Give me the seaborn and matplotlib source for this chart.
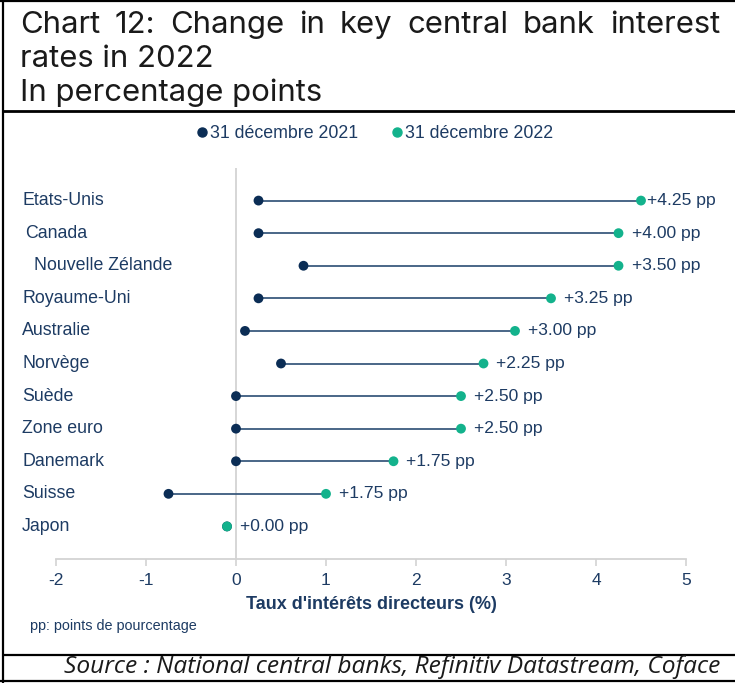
import numpy as np
import pandas as pd
import matplotlib
matplotlib.use("Agg")
import matplotlib.pyplot as plt
import matplotlib.transforms as mtransforms
from matplotlib.lines import Line2D
import seaborn as sns

# ---------------- data ----------------
countries = ["Etats-Unis", "Canada", "Nouvelle Zélande", "Royaume-Uni", "Australie",
             "Norvège", "Suède", "Zone euro", "Danemark", "Suisse", "Japon"]
rate_2021 = [0.25, 0.25, 0.75, 0.25, 0.10, 0.50, 0.00, 0.00, 0.00, -0.75, -0.10]
rate_2022 = [4.50, 4.25, 4.25, 3.50, 3.10, 2.75, 2.50, 2.50, 1.75, 1.00, -0.10]
change_labels = ["+4.25 pp", "+4.00 pp", "+3.50 pp", "+3.25 pp", "+3.00 pp", "+2.25 pp",
                 "+2.50 pp", "+2.50 pp", "+1.75 pp", "+1.75 pp", "+0.00 pp"]
series_names = ["31 décembre 2021", "31 décembre 2022"]
x_ticks = [-2, -1, 0, 1, 2, 3, 4, 5]

# ---------------- style ----------------
W, H, DPI = 735, 683, 100
NAVY = "#0b2d55"
TEAL = "#13b28c"
LINE = "#3a5a7e"
TXT = "#1d3b63"
GRID = "#d3d3d3"
label_indent_px = [22, 25, 34, 22, 22, 22, 22, 22, 22, 22, 22]
value_offset_px = [6, 13, 13, 13, 13, 13, 13, 13, 13, 13, 13]

sns.set_theme(style="white")
plt.rcParams["font.family"] = ["Liberation Sans", "DejaVu Sans"]

fig = plt.figure(figsize=(W / DPI, H / DPI), dpi=DPI)
ax = fig.add_axes([56 / W, 1 - 559 / H, 630 / W, (559 - 168) / H])

pos = np.arange(len(countries))
df = pd.DataFrame({
    "pays": countries * 2,
    "pos": np.concatenate([pos, pos]),
    "taux": rate_2021 + rate_2022,
    "date": [series_names[0]] * len(countries) + [series_names[1]] * len(countries),
})

ax.axvline(0, color=GRID, lw=1.3, zorder=0)
ax.hlines(pos, rate_2021, rate_2022, color=LINE, lw=1.3, zorder=1)
sns.scatterplot(data=df, x="taux", y="pos", hue="date", palette=[NAVY, TEAL],
                s=50, edgecolor="none", linewidth=0, legend=False, ax=ax, zorder=3)

ax.set_xlim(-2, 5)
ax.set_ylim(len(countries), -1)
ax.set_xticks(x_ticks)
ax.set_xticklabels([str(t) for t in x_ticks], fontsize=12.5, color=TXT)
ax.set_yticks([])
ax.set_ylabel("")
for s in ["top", "right", "left"]:
    ax.spines[s].set_visible(False)
ax.spines["bottom"].set_color(GRID)
ax.spines["bottom"].set_linewidth(1.3)
ax.tick_params(axis="x", bottom=True, length=5, width=1.2, color=GRID, pad=5)
ax.set_xlabel("Taux d'intérêts directeurs (%)", fontsize=13, fontweight="bold",
              color=TXT, labelpad=6)

# country labels
blend = mtransforms.blended_transform_factory(fig.transFigure, ax.transData)
for i, c in enumerate(countries):
    ax.text(label_indent_px[i] / W, pos[i], c, transform=blend, ha="left", va="center",
            fontsize=12.8, color=TXT)

# value labels
for i, lab in enumerate(change_labels):
    tr = mtransforms.offset_copy(ax.transData, fig=fig, x=value_offset_px[i], y=0, units="dots")
    ax.text(rate_2022[i], pos[i], lab, transform=tr, ha="left", va="center",
            fontsize=12.6, color=TXT)

# legend
handles = [Line2D([], [], marker="o", ls="none", color=NAVY, markersize=6.5),
           Line2D([], [], marker="o", ls="none", color=TEAL, markersize=6.5)]
fig.legend(handles, series_names, loc="center", bbox_to_anchor=(374 / W, 1 - 134 / H),
           ncol=2, frameon=False, fontsize=12.8, handletextpad=0.05, columnspacing=1.8,
           handlelength=0.8, labelcolor=TXT)

# note
fig.text(30 / W, 1 - 626 / H, "pp: points de pourcentage", fontsize=10.4, color=TXT,
         ha="left", va="center")

# ---------------- title ----------------
renderer = fig.canvas.get_renderer()
TFONT = ["Inter", "DejaVu Sans"]
SFONT = ["Open Sans", "DejaVu Sans"]

def width_px(txt, size, family, style="normal"):
    t = fig.text(0, 0, txt, fontsize=size, family=family, style=style)
    w = t.get_window_extent(renderer=renderer).width
    t.remove()
    return w

tsize = 20 * 302 / width_px("In percentage points", 20, TFONT)
words = ["Chart", "12:", "Change", "in", "key", "central", "bank", "interest"]
ws = [width_px(w, tsize, TFONT) for w in words]
gap = (700 - sum(ws)) / (len(words) - 1)
x = 20
for w, wd in zip(words, ws):
    fig.text(x / W, 1 - 33 / H, w, fontsize=tsize, family=TFONT, color="#1a1a1a",
             ha="left", va="baseline")
    x += wd + gap
fig.text(20 / W, 1 - 67 / H, "rates in 2022", fontsize=tsize, family=TFONT,
         color="#1a1a1a", ha="left", va="baseline")
fig.text(20 / W, 1 - 101 / H, "In percentage points", fontsize=tsize, family=TFONT,
         color="#1a1a1a", ha="left", va="baseline")

src = "Source : National central banks, Refinitiv Datastream, Coface"
ssize = 14 * 658 / width_px(src, 14, SFONT, "italic")
fig.text(720 / W, 1 - 667 / H, src, fontsize=ssize, family=SFONT,
         style="italic", color="#1a1a1a", ha="right", va="center")

# ---------------- frame ----------------
def hline(y, x0, x1, lw):
    fig.add_artist(Line2D([x0 / W, x1 / W], [1 - y / H, 1 - y / H], color="black",
                          lw=lw, transform=fig.transFigure, solid_capstyle="butt"))

hline(1, 0, W, 1.6)
hline(111, 3, W, 2.0)
hline(655, 3, W, 1.6)
hline(681, 0, W, 1.6)
fig.add_artist(Line2D([3 / W, 3 / W], [0, 1], color="black", lw=1.6,
                      transform=fig.transFigure))

fig.savefig("out.png", dpi=DPI)
